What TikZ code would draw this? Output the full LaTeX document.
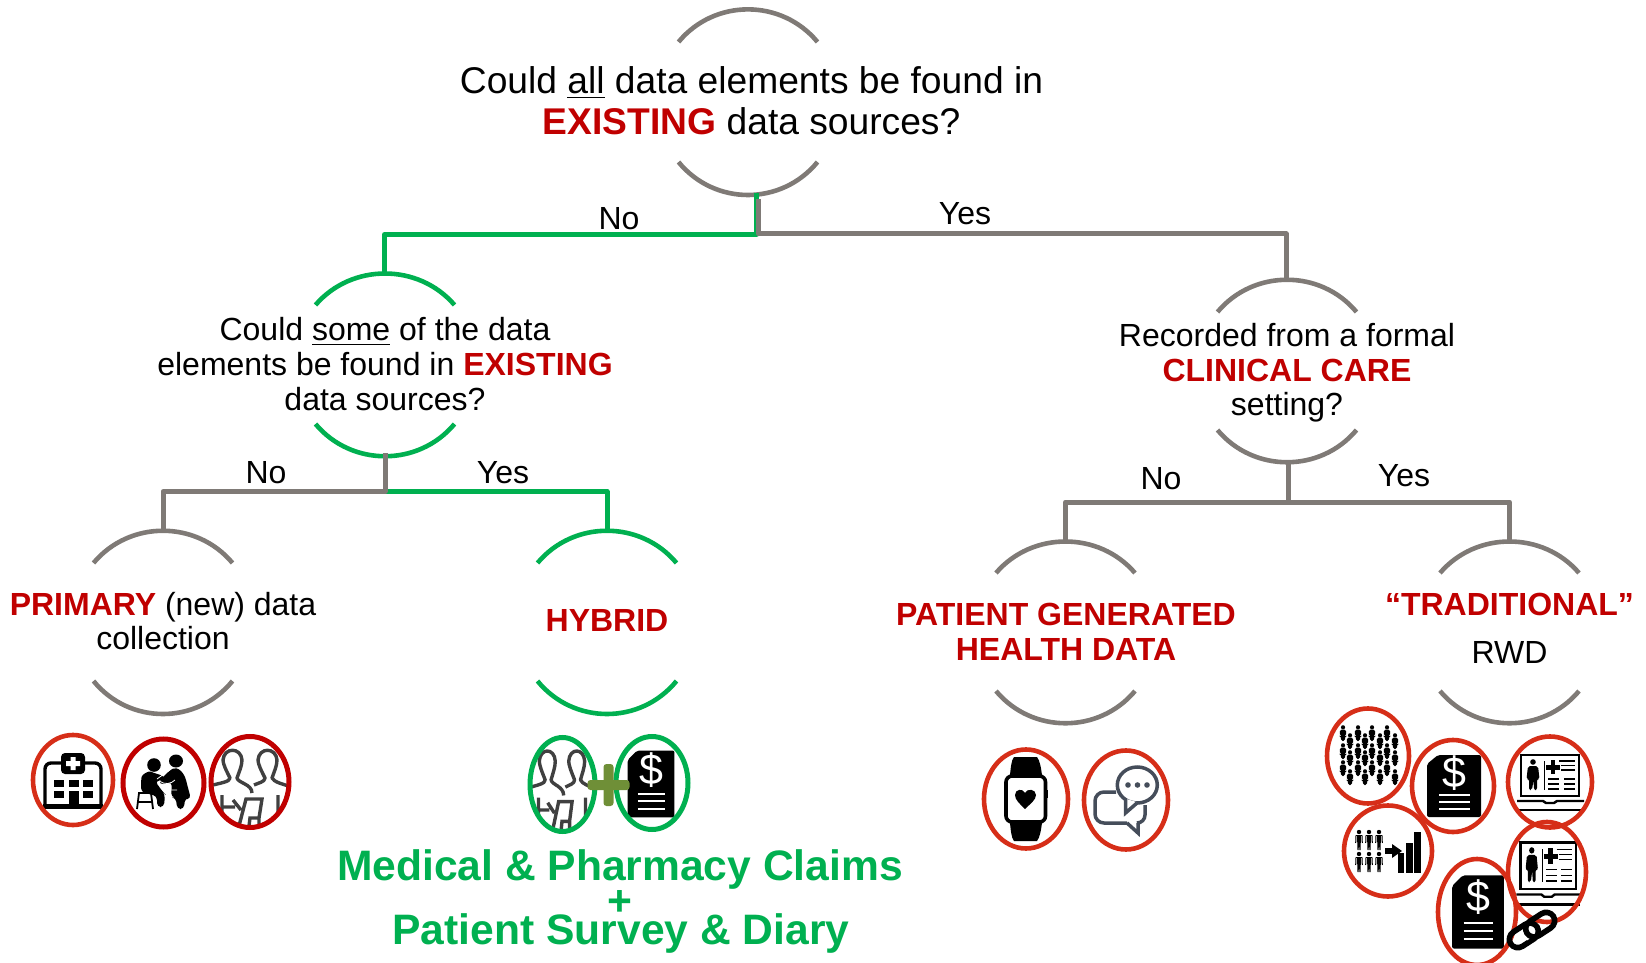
\documentclass[tikz,border=0pt]{standalone}
\usepackage{fontspec}
\setmainfont{Liberation Sans}
\definecolor{grayline}{HTML}{7F7A76}
\definecolor{greenline}{HTML}{00B050}
\definecolor{redtxt}{HTML}{C00000}
\definecolor{redring}{HTML}{D62E18}
\definecolor{plusgreen}{HTML}{6F8F37}
\definecolor{iconslate}{HTML}{454D5A}
\definecolor{icongray}{HTML}{404040}
\tikzset{
  x=0.5pt,y=-0.5pt,
  conn/.style={line width=2.5pt,line join=round},
  arcg/.style={line width=2.3pt,draw=grayline,line cap=butt},
  arcgreen/.style={line width=2.3pt,draw=greenline,line cap=butt},
  ringr/.style={draw=redring,line width=2.3pt},
  ringd/.style={draw=redtxt,line width=2.5pt},
  ringg/.style={draw=greenline,line width=2.5pt},
  txtA/.style={align=center,font=\fontsize{18.6}{20.5}\selectfont,inner sep=0pt},
  txtB/.style={align=center,font=\fontsize{16}{17.3}\selectfont,inner sep=0pt},
  lab/.style={font=\fontsize{16}{18}\selectfont,inner sep=0pt},
  bigg/.style={font=\fontsize{21.3}{24}\selectfont\bfseries,text=greenline,inner sep=0pt},
}
\newcommand{\rb}[1]{\textcolor{redtxt}{\textbf{#1}}}
% style, cx, top apex, top end y, bottom end y, bottom apex
\newcommand{\decarcs}[6]{%
  \draw[#1] ({#2-69.5},#4) .. controls ({#2-33.5},{#3-11}) and ({#2+33.5},{#3-11}) .. ({#2+69.5},#4);
  \draw[#1] ({#2-69.5},#5) .. controls ({#2-33.5},{#6+11}) and ({#2+33.5},{#6+11}) .. ({#2+69.5},#5);
}
\newcommand{\dollardoc}[4]{%
  \begin{scope}[shift={(#1,#2)},xscale=#3,yscale=#4]
    \fill[black,rounded corners=1pt] (-16,-31) -- (27,-31) -- (27,31) -- (-27,31) -- (-27,-22) -- cycle;
    \draw[white,line width=1.1pt] (-15,9) -- (16,9) (-15,16) -- (16,16) (-15,23) -- (16,23);
    \node[text=white,inner sep=0pt,font=\fontsize{21.5}{22}\selectfont] (#1#2s) at (0,-13) {\$};
  \end{scope}}
\newcommand{\peoplebust}[4]{%
  \begin{scope}[shift={(#1,#2)},xscale=#3,yscale=#4]
    \draw[icongray,line width=1.7pt,line join=round]
      (-41,4) .. controls (-30,1) and (-20,0) .. (-20,-4) .. controls (-24,-12) and (-27,-18) .. (-27,-22)
      .. controls (-26,-35) and (-9,-35) .. (-8,-22) .. controls (-8,-16) and (-11,-10) .. (-13,-4)
      .. controls (-12,1) and (2,2) .. (2,11);
    \draw[icongray,line width=1.7pt,line join=round]
      (4,3) .. controls (8,1) and (15,0) .. (15,-4) .. controls (11,-12) and (8,-18) .. (8,-22)
      .. controls (9,-35) and (26,-35) .. (27,-22) .. controls (27,-16) and (24,-10) .. (22,-4)
      .. controls (24,0) and (32,2) .. (42,5);
    \draw[icongray,line width=1.7pt] (-28,13) -- (-28,44) (28,13) -- (28,44)
      (-28,25) -- (-15,25) (-17,18) -- (-9,28)
      (-11,44) -- (-4,17) -- (12,17) -- (9,36) -- (0,36) -- (-1,44) (9,36) -- (9,44);
  \end{scope}}
\newcommand{\emr}[4]{% cx cy xscale yscale
  \begin{scope}[shift={(#1,#2)},xscale=#3,yscale=#4]
    \draw[black,line width=1.2pt] (-29,-27) rectangle (29,14);
    \fill (-17,-20) circle (2.8);
    \fill[rounded corners=1pt] (-22,-16) -- (-12,-16) -- (-10.5,-3) -- (-13,-3) -- (-13,8) -- (-16,8) -- (-16.5,-2) -- (-18,8) -- (-21,8) -- (-21,-3) -- (-23.5,-3) -- cycle;
    \draw[black,line width=.4pt] (-5.5,-21) -- (-5.5,8);
    \fill (0.5,-22) rectangle (5,-8); \fill (-4,-17) rectangle (10,-12.5);
    \draw[black,line width=.7pt] (9,-21) -- (25,-21) (11,-16.5) -- (25,-16.5) (11,-12) -- (25,-12)
      (-2,-3) -- (9,-3) (14,-3) -- (25,-3) (-2,2) -- (9,2) (14,2) -- (25,2) (-2,7) -- (9,7) (14,7) -- (25,7);
    \draw[black,line width=1.2pt] (-33,19) -- (-7,19) -- (-4,21) -- (4,21) -- (7,19) -- (34,19);
    \draw[black,line width=1.2pt] (-33,28) -- (34,28);
  \end{scope}}
\newcommand{\minip}[3]{% cx cy scale : crowd person
  \begin{scope}[shift={(#1,#2)},scale=#3]
    \fill (0,-6) circle (2.2);
    \fill[rounded corners=.8pt] (-3.2,-3.6) -- (3.2,-3.6) -- (3.2,3) -- (2.3,3) -- (2,8.5) -- (-2,8.5) -- (-2.3,3) -- (-3.2,3) -- cycle;
  \end{scope}}
\newcommand{\minib}[2]{% cx cy : slim standing figure
  \begin{scope}[shift={(#1,#2)}]
    \fill (0,-8) circle (2.2);
    \fill (-1.8,-5) rectangle (1.8,2);
    \fill (-1.8,1) -- (1.8,1) -- (1.5,10) -- (.4,10) -- (0,3) -- (-.4,10) -- (-1.5,10) -- cycle;
    \draw[black,line width=.5pt] (-3,-4.5) -- (-3.3,3) (3,-4.5) -- (3.3,3);
    \draw[black,line width=.6pt] (-3,-4.7) -- (3,-4.7);
  \end{scope}}
\begin{document}
\begin{tikzpicture}
\useasboundingbox (0,0) rectangle (1646,963);
% ---------- decision arcs
\decarcs{arcg}{748}{9.5}{42}{162}{195}
\decarcs{arcgreen}{385}{274}{305}{424}{456}
\decarcs{arcg}{1287}{280}{312}{430}{462}
\decarcs{arcg}{163}{531}{563}{681}{714}
\decarcs{arcgreen}{607}{531}{563}{681}{714}
\decarcs{arcg}{1065.5}{542}{573}{691}{723}
\decarcs{arcg}{1509.5}{542}{573}{691}{723}
% ---------- text nodes
\node[txtA] (q1) at (751.5,101) {Could \underline{all} data elements be found in\\\textcolor{redtxt}{\textbf{EXISTING}} data sources?};
\node[txtB] (q2) at (385,364) {Could \underline{some} of the data\\elements be found in \rb{EXISTING}\\data sources?};
\node[txtB] (q3) at (1287,373) {Recorded from a formal\\\rb{CLINICAL CARE}\\setting?};
\node[txtB] (r1) at (163,621) {\rb{PRIMARY} (new) data\\collection};
\node[txtB] (r2) at (607,620.5) {\rb{HYBRID}};
\node[txtB] (r3) at (1066,632) {\rb{PATIENT GENERATED}\\\rb{HEALTH DATA}};
\node[txtB] (r4a) at (1509.5,604) {\rb{“TRADITIONAL”}};
\node[txtB] (r4b) at (1509.5,652) {RWD};
\node[lab] (lno1) at (619,219) {No};
\node[lab] (lyes1) at (965,214) {Yes};
\node[lab] (lno2) at (266,473) {No};
\node[lab] (lyes2) at (503,473) {Yes};
\node[lab] (lno3) at (1161,479) {No};
\node[lab] (lyes3) at (1404,476) {Yes};
\node[bigg] (g1) at (620,869.5) {Medical \& Pharmacy Claims};
\node[bigg] (g2) at (620,903.5) {+};
\node[bigg] (g3) at (621,933.5) {Patient Survey \& Diary};
% ---------- connector anchors
\coordinate (a1) at (756.5,193);
\coordinate (a1b) at (758.5,199);
\coordinate (j1) at (756.5,234.5);
\coordinate (j1b) at (758.5,234);
\coordinate (a2) at (384.5,274);
\coordinate (a3) at (1286,280);
\coordinate (b1) at (385,453);
\coordinate (j2) at (385,491.5);
\coordinate (b2) at (163,531);
\coordinate (b3) at (607,531);
\coordinate (c1) at (1288,462);
\coordinate (j3) at (1288,502);
\coordinate (c2) at (1065.5,542);
\coordinate (c3) at (1509.5,542);
% ---------- connectors
\draw[conn,greenline] (a1) -- (j1) -| (a2);
\draw[conn,grayline] (a1b) -- (j1b) -| (a3);
\draw[conn,greenline] (j2) -| (b3);
\draw[conn,grayline] (b1) -- (j2) -| (b2);
\draw[conn,grayline] (c1) -- (j3);
\draw[conn,grayline] (j3) -| (c2);
\draw[conn,grayline] (j3) -| (c3);
% ---------- hospital
\begin{scope}[shift={(73,781)}]
  \draw[black,line width=1.7pt,rounded corners=3pt] (-28,26) -- (-28,-18) -- (28,-18) -- (28,26);
  \fill[black] (-30,23) rectangle (30,28);
  \fill[black,rounded corners=2pt] (-12,-28) rectangle (12,-7);
  \fill[white] (-2.5,-24) rectangle (2.5,-11) (-7,-20) rectangle (7,-15);
  \foreach \px in {-19,-4,10} \fill[black] (\px,-1) rectangle ++(10,7);
  \foreach \px in {-19,10} \fill[black] (\px,10) rectangle ++(10,7);
  \fill[black] (-4,10) rectangle (6,26);
\end{scope}
\draw[ringr] (73,780) ellipse [x radius=40,y radius=45];
% ---------- doctor and patient
\begin{scope}[shift={(163,782)}]
  \fill (-9,-17) circle (6.8);
  \fill (13,-21) ellipse [x radius=7,y radius=6.5];
  \fill[rounded corners=2pt] (-22,10) -- (-22,-1) .. controls (-21,-8) and (-14,-11) .. (-9,-9) -- (1,-6) -- (3,-2) -- (-8,-1) -- (-3,6) -- (0,10) -- (2,12) -- (1,25) -- (-6,25) -- (-6,14) -- cycle;
  \fill[rounded corners=2pt] (6,-11) .. controls (14,-16) and (21,-10) .. (24,2) -- (28,17) -- (22,16) -- (21,27) -- (14,27) -- (13,16) -- (8,15) -- (9,0) -- (-3,3) -- (-3,-2) -- cycle;
  \draw[white,line width=.4pt] (-6,-3) -- (8,-13) (-4,-1) .. controls (2,3) and (8,2) .. (12,-2) (8,8) -- (14,8);
  \draw[black,line width=.9pt] (-26,27) -- (-24,11) -- (-12,11) -- (-10,27) (-25,20) -- (-11,20);
\end{scope}
\draw[ringd] (163.5,783) ellipse [x radius=40.5,y radius=44];
% ---------- people
\begin{scope}
  \clip (250,782) ellipse [x radius=39,y radius=46];
  \peoplebust{250}{782}{1}{1}
\end{scope}
\draw[ringd] (250,782) ellipse [x radius=39,y radius=45.5];
% ---------- hybrid icons
\begin{scope}
  \clip (562,784) ellipse [x radius=33,y radius=48];
  \peoplebust{562}{784}{.84}{1.04}
\end{scope}
\dollardoc{651}{784}{.87}{1.08}
\draw[ringg] (562.5,784.5) ellipse [x radius=32.5,y radius=47];
\draw[ringg] (652,783) ellipse [x radius=36,y radius=46.5];
\fill[plusgreen,rounded corners=1.5pt] (587.5,780) rectangle (629.5,790);
\fill[plusgreen,rounded corners=1.5pt] (603.5,764) rectangle (613.5,806);
% ---------- watch
\begin{scope}[shift={(1026,799)}]
  \fill (-16.5,-20) .. controls (-15,-32) and (-15,-38) .. (-12,-42) -- (11,-42) .. controls (14,-38) and (15,-32) .. (16.5,-20) -- cycle;
  \fill (-16.5,20) .. controls (-15,32) and (-15,38) .. (-12,42) -- (11,42) .. controls (14,38) and (15,32) .. (16.5,20) -- cycle;
  \draw[black,line width=1.8pt,fill=white,rounded corners=3pt] (-20,-23) rectangle (19.5,23);
  \fill (20,-9) rectangle (22,-1);
  \fill (-1,10) .. controls (-6,5) and (-11,1) .. (-11,-4) .. controls (-11,-10) and (-3,-11) .. (-1,-6) .. controls (1,-11) and (10,-10) .. (10,-4) .. controls (10,1) and (4,5) .. (-1,10) -- cycle;
\end{scope}
\draw[ringr] (1026,799) ellipse [x radius=42,y radius=49.5];
% ---------- chat
\begin{scope}[shift={(1126,800)}]
  \draw[iconslate,line width=1.75pt,line join=miter,rounded corners=4.5pt]
    (-10,-8) -- (-31,-8) -- (-31,23) -- (1,23);
  \draw[iconslate,line width=1.75pt,line join=miter]
    (1,23) -- (12,33) -- (12,23);
  \draw[iconslate,line width=1.75pt,line join=miter,rounded corners=4pt]
    (12,23) -- (19,23) -- (19,5);
  \draw[iconslate,line width=1.75pt,fill=white] (11.3,-15) ellipse [x radius=20,y radius=18];
  \fill[white] (0.5,-1) -- (0.5,12) -- (10.5,2) -- cycle;
  \draw[iconslate,line width=1.75pt,line join=miter] (-0.5,-1) -- (-0.5,13) -- (11,3);
  \foreach \px in {2,11.5,21} \fill[iconslate] (\px,-15) circle (2.8);
\end{scope}
\draw[ringr] (1126,800) ellipse [x radius=42,y radius=49.5];
% ---------- crowd
\foreach \px/\py in {1343/733,1343/751,1343/768,1358/733,1358/751,1358/768,1372/733,1372/751,1372/768,1387/733,1387/751,1387/768,
  1350/741,1350/758,1350/777,1365/741,1365/758,1365/777,1380/741,1380/758,1380/777,1395/741,1395/758,1395/777}
  {\minip{\px}{\py}{.95}}
\draw[ringr] (1368,756) ellipse [x radius=41,y radius=47.5];
% ---------- dollar documents
\dollardoc{1454}{786}{1}{1}
\draw[ringr] (1453,786) ellipse [x radius=41,y radius=46];
% ---------- EMR
\emr{1550}{782}{1}{1}
\draw[ringr] (1550,782) ellipse [x radius=42,y radius=45.5];
% ---------- stats
\foreach \px/\py in {1359/840,1369/840,1379/840,1359/862,1369/862,1379/862}
  {\minib{\px}{\py}}
\fill (1385,848) rectangle (1393,854);
\fill (1392,844) -- (1402,851) -- (1392,858) -- cycle;
\fill (1397.5,853) rectangle (1404,873);
\fill (1406,843) rectangle (1412.5,873);
\fill (1414,832) rectangle (1421,873);
\draw[ringr] (1388,851) ellipse [x radius=44,y radius=45.5];
% ---------- second EMR
\emr{1548}{873}{.955}{1.13}
\draw[ringr] (1547,872) ellipse [x radius=39,y radius=50];
% ---------- dollar + link
\dollardoc{1478}{912}{.96}{1.18}
\draw[ringr] (1477,912) ellipse [x radius=39,y radius=53];
\begin{scope}[shift={(1532,930)},rotate=33]
  \draw[black,line width=2.8pt,rounded corners=4.4pt] (-25.5,-8.5) rectangle (6,8.5);
  \draw[white,line width=3.6pt] (-6,-3.5) -- (-6,6);
  \draw[black,line width=2.8pt,rounded corners=4.4pt] (-6,-8.5) rectangle (25.5,8.5);
\end{scope}
\end{tikzpicture}
\end{document}
